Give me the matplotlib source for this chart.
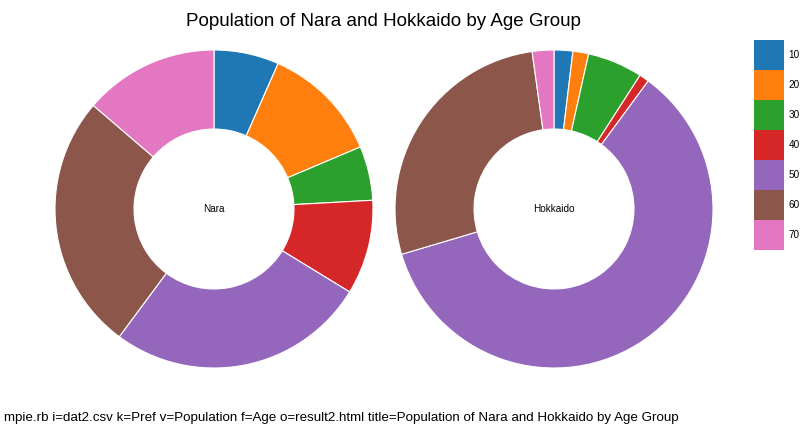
# Donut charts: population of Nara and Hokkaido by age group
import matplotlib
matplotlib.use("Agg")
import matplotlib.pyplot as plt

plt.rcParams.update({
    "font.family": ["Liberation Sans", "DejaVu Sans"],
})

# Data (shares, in percent)
age_groups = ["10", "20", "30", "40", "50", "60", "70"]
nara = [6.6, 12.0, 5.5, 9.6, 26.4, 26.1, 13.7]
hokkaido = [1.9, 1.6, 5.6, 1.0, 60.3, 27.4, 2.2]
prefs = [("Nara", nara), ("Hokkaido", hokkaido)]
colors = ["#1f77b4", "#ff7f0e", "#2ca02c", "#d62728",
          "#9467bd", "#8c564b", "#e377c2"]

W, H = 812, 436
fig = plt.figure(figsize=(W / 100, H / 100), dpi=100)


def px_axes(x0, y0, w, h):
    # axes placed with pixel coords measured from the top-left corner
    return fig.add_axes([x0 / W, 1 - (y0 + h) / H, w / W, h / H])


# Donuts (center x, center y, radius in px)
centers = [(214, 209), (554, 209)]
r = 159
for (cx, cy), (name, vals) in zip(centers, prefs):
    ax = px_axes(cx - r, cy - r, 2 * r, 2 * r)
    ax.pie(vals, colors=colors, startangle=90, counterclock=False,
           radius=1.0,
           wedgeprops=dict(width=0.497, edgecolor="white", linewidth=0.8))
    ax.set_xlim(-1, 1)
    ax.set_ylim(-1, 1)
    ax.text(0, 0, name, ha="center", va="center", fontsize=7.2)
    ax.set_aspect("equal")

# Legend as a stack of colour squares
lax = px_axes(754, 40, 30, 210)
for i, (lab, c) in enumerate(zip(age_groups, colors)):
    lax.bar(0, 1, bottom=i, width=1, color=c, align="edge")
    lax.text(1.15, i + 0.5, lab, ha="left", va="center", fontsize=7.2,
             transform=lax.transData, clip_on=False)
lax.set_xlim(0, 1)
lax.set_ylim(len(age_groups), 0)
lax.axis("off")

fig.text(383 / W, 1 - 22 / H, "Population of Nara and Hokkaido by Age Group",
         ha="center", va="center", fontsize=13.5)
fig.text(4 / W, 1 - 418 / H,
         "mpie.rb i=dat2.csv k=Pref v=Population f=Age o=result2.html "
         "title=Population of Nara and Hokkaido by Age Group",
         ha="left", va="center", fontsize=9.6)

fig.savefig("out.png", dpi=100)
